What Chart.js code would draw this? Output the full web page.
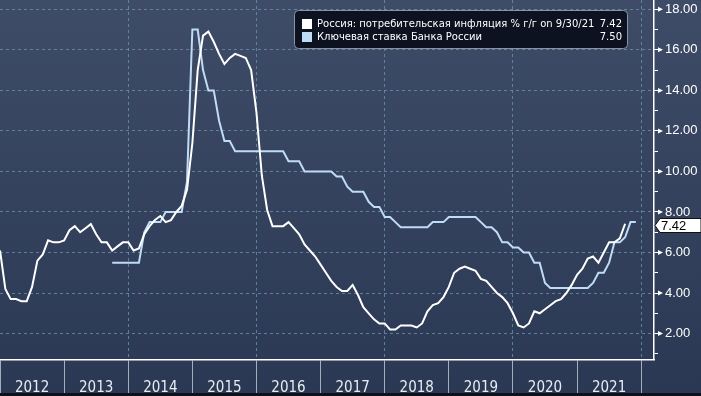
<!DOCTYPE html>
<html>
<head>
<meta charset="utf-8">
<script src="https://cdn.jsdelivr.net/npm/chart.js@4.4.0/dist/chart.umd.min.js"></script>
<style>
  html, body { margin: 0; padding: 0; background: #2a3652; }
  #wrap {
    width: 701px; height: 396px; position: relative;
    background: linear-gradient(to bottom, #3f4c68 0%, #35425e 50%, #2b3854 100%);
  }
  #wrap::after {
    content: ''; position: absolute; left: 0; right: 0; bottom: 0; height: 3px; background: #0d111a;
  }
  canvas { display: block; position: relative; }
</style>
</head>
<body>
<div id="wrap"><canvas id="chart" width="701" height="396"></canvas></div>
<script>
const yearLabels = ['2012', '2013', '2014', '2015', '2016', '2017', '2018', '2019', '2020', '2021'];

// CPI y/y, monthly, first value is Dec 2011
const cpiStart = 0;
const cpiValues = [
  6.1,
  4.2, 3.7, 3.7, 3.6, 3.6, 4.3, 5.6, 5.9, 6.6, 6.5, 6.5, 6.6,
  7.1, 7.3, 7.0, 7.2, 7.4, 6.9, 6.5, 6.5, 6.1, 6.3, 6.5, 6.5,
  6.1, 6.2, 6.9, 7.3, 7.6, 7.8, 7.5, 7.6, 8.0, 8.3, 9.1, 11.4,
  15.0, 16.7, 16.9, 16.4, 15.8, 15.3, 15.6, 15.8, 15.7, 15.6, 15.0, 12.9,
  9.8, 8.1, 7.3, 7.3, 7.3, 7.5, 7.2, 6.9, 6.4, 6.1, 5.8, 5.4,
  5.0, 4.6, 4.3, 4.1, 4.1, 4.4, 3.9, 3.3, 3.0, 2.7, 2.5, 2.5,
  2.2, 2.2, 2.4, 2.4, 2.4, 2.3, 2.5, 3.1, 3.4, 3.5, 3.8, 4.3,
  5.0, 5.2, 5.3, 5.2, 5.1, 4.7, 4.6, 4.3, 4.0, 3.8, 3.5, 3.0,
  2.4, 2.3, 2.5, 3.1, 3.0, 3.2, 3.4, 3.6, 3.7, 4.0, 4.4, 4.9,
  5.2, 5.7, 5.8, 5.5, 6.0, 6.5, 6.5, 6.7, 7.42
];

// key rate, monthly, first value is Oct 2013
const rateStart = 21;
const rateValues = [
  5.5, 5.5, 5.5,
  5.5, 5.5, 5.5, 7.0, 7.5, 7.5, 7.5, 8.0, 8.0, 8.0, 8.0, 9.5,
  17.0, 17.0, 15.0, 14.0, 14.0, 12.5, 11.5, 11.5, 11.0, 11.0, 11.0, 11.0,
  11.0, 11.0, 11.0, 11.0, 11.0, 11.0, 10.5, 10.5, 10.5, 10.0, 10.0, 10.0,
  10.0, 10.0, 10.0, 9.75, 9.75, 9.25, 9.0, 9.0, 9.0, 8.5, 8.25, 8.25,
  7.75, 7.75, 7.5, 7.25, 7.25, 7.25, 7.25, 7.25, 7.25, 7.5, 7.5, 7.5,
  7.75, 7.75, 7.75, 7.75, 7.75, 7.75, 7.5, 7.25, 7.25, 7.0, 6.5, 6.5,
  6.25, 6.25, 6.0, 6.0, 5.5, 5.5, 4.5, 4.25, 4.25, 4.25, 4.25, 4.25,
  4.25, 4.25, 4.25, 4.5, 5.0, 5.0, 5.5, 6.5, 6.5, 6.75, 7.5, 7.5
];

const seriesNames = [
  'Россия: потребительская инфляция % г/г on 9/30/21',
  'Ключевая ставка Банка России'
];
const yTickValues = [1, 2, 3, 4, 5, 6, 7, 8, 9, 10, 11, 12, 13, 14, 15, 16, 17, 18];

const white = '#ffffff';
const lightBlue = '#bfdcf6';
const dashColor = 'rgba(110,150,175,0.75)';
const numFont = "'Liberation Sans', Arial, sans-serif";
const yearFont = "'Liberation Sans Narrow', 'DejaVu Sans Condensed', 'Liberation Sans', sans-serif";
const legendFont = "'DejaVu Sans', Verdana, sans-serif";

const xTickValues = [];
yearLabels.forEach((_, i) => { xTickValues.push(i * 12, i * 12 + 6); });
xTickValues.push(yearLabels.length * 12);

const toPoints = (start, values) => values.map((v, i) => ({ x: start + i, y: v }));

const overlay = {
  id: 'overlay',
  afterDraw(chart) {
    const { ctx, chartArea: area } = chart;
    const y = chart.scales.y;
    ctx.save();

    // arrow heads on major y ticks
    ctx.fillStyle = white;
    y.ticks.forEach((t) => {
      if (t.value % 2) return;
      const py = y.getPixelForValue(t.value);
      ctx.beginPath();
      ctx.moveTo(area.right + 4, py - 2.5);
      ctx.lineTo(area.right + 9, py);
      ctx.lineTo(area.right + 4, py + 2.5);
      ctx.closePath();
      ctx.fill();
    });

    // last value tag
    const last = cpiValues[cpiValues.length - 1];
    const ly = Math.round(y.getPixelForValue(last)) + 1.5;
    ctx.beginPath();
    ctx.moveTo(area.right + 1, ly);
    ctx.lineTo(area.right + 6, ly - 7);
    ctx.lineTo(chart.width, ly - 7);
    ctx.lineTo(chart.width, ly + 7);
    ctx.lineTo(area.right + 6, ly + 7);
    ctx.closePath();
    ctx.fillStyle = white;
    ctx.fill();
    ctx.strokeStyle = '#111';
    ctx.lineWidth = 1;
    ctx.stroke();
    ctx.fillStyle = '#000';
    ctx.font = '13px ' + numFont;
    ctx.textBaseline = 'middle';
    ctx.textAlign = 'left';
    ctx.fillText(last.toFixed(2), area.right + 7, ly + 0.5);

    // legend box
    const bx = 294.5, by = 10.5, bw = 333, bh = 38;
    ctx.beginPath();
    ctx.roundRect(bx, by, bw, bh, 4);
    ctx.fillStyle = '#0c1220';
    ctx.fill();
    ctx.strokeStyle = '#8a93a2';
    ctx.stroke();
    const rows = [
      { color: white, name: seriesNames[0], value: cpiValues[cpiValues.length - 1] },
      { color: lightBlue, name: seriesNames[1], value: rateValues[rateValues.length - 1] }
    ];
    // fit the long label into the box like the terminal font does
    let size = 11;
    ctx.font = size + 'px ' + legendFont;
    while (ctx.measureText(rows[0].name).width > 279 && size > 8) {
      size -= 0.25;
      ctx.font = size + 'px ' + legendFont;
    }
    rows.forEach((r, i) => {
      const ry = 24 + i * 13;
      ctx.fillStyle = r.color;
      ctx.fillRect(302, ry - 5, 10, 10);
      ctx.fillStyle = white;
      ctx.textAlign = 'left';
      ctx.fillText(r.name, 317, ry);
      ctx.textAlign = 'right';
      ctx.fillText(r.value.toFixed(2), 622, ry);
    });
    ctx.restore();
  }
};

new Chart(document.getElementById('chart'), {
  type: 'line',
  data: {
    datasets: [
      {
        label: seriesNames[0],
        data: toPoints(cpiStart, cpiValues),
        borderColor: white,
        borderWidth: 2,
        pointRadius: 0,
        tension: 0,
      },
      {
        label: seriesNames[1],
        data: toPoints(rateStart, rateValues),
        borderColor: lightBlue,
        borderWidth: 2,
        pointRadius: 0,
        tension: 0,
      },
    ],
  },
  options: {
    responsive: false,
    animation: false,
    layout: { padding: 0 },
    plugins: {
      legend: { display: false },
      tooltip: { enabled: false },
    },
    scales: {
      x: {
        type: 'linear',
        position: 'bottom',
        min: 0,
        max: 122.4,
        afterBuildTicks: (scale) => {
          scale.ticks = xTickValues.map((v) => ({ value: v }));
        },
        afterFit: (scale) => {
          scale.height = 36.5;
          scale.paddingLeft = 0;
          scale.paddingRight = 0;
        },
        border: { color: white, width: 1.5, dash: [3, 3] },
        grid: {
          color: (c) => (c.tick && c.tick.value > 0 && c.tick.value % 24 === 0 ? dashColor : 'transparent'),
          tickColor: (c) => (c.tick && c.tick.value % 12 === 0 ? '#a5adba' : 'transparent'),
          tickBorderDash: [],
          tickLength: 36,
          lineWidth: 1,
          tickWidth: 1,
        },
        ticks: {
          autoSkip: false,
          maxRotation: 0,
          padding: -16,
          color: '#e8ecf2',
          font: { family: yearFont, size: 15 },
          callback: (v) => (v % 12 === 6 ? yearLabels[(v - 6) / 12] : ''),
        },
      },
      y: {
        position: 'right',
        min: 0.72,
        max: 18.46,
        afterBuildTicks: (scale) => {
          scale.ticks = yTickValues.map((v) => ({ value: v }));
        },
        afterFit: (scale) => {
          scale.width = 47;
          scale.paddingTop = 0;
          scale.paddingBottom = 0;
        },
        border: { color: white, width: 1.5, dash: [3, 3] },
        grid: {
          color: (c) => (c.tick && c.tick.value % 2 === 0 ? dashColor : 'transparent'),
          tickColor: white,
          tickBorderDash: [],
          tickLength: 4,
          lineWidth: 1,
        },
        ticks: {
          padding: 7,
          color: white,
          font: { family: numFont, size: 13 },
          callback: (v) => (v % 2 === 0 ? v.toFixed(2) : ''),
        },
      },
    },
  },
  plugins: [overlay],
});
</script>
</body>
</html>
